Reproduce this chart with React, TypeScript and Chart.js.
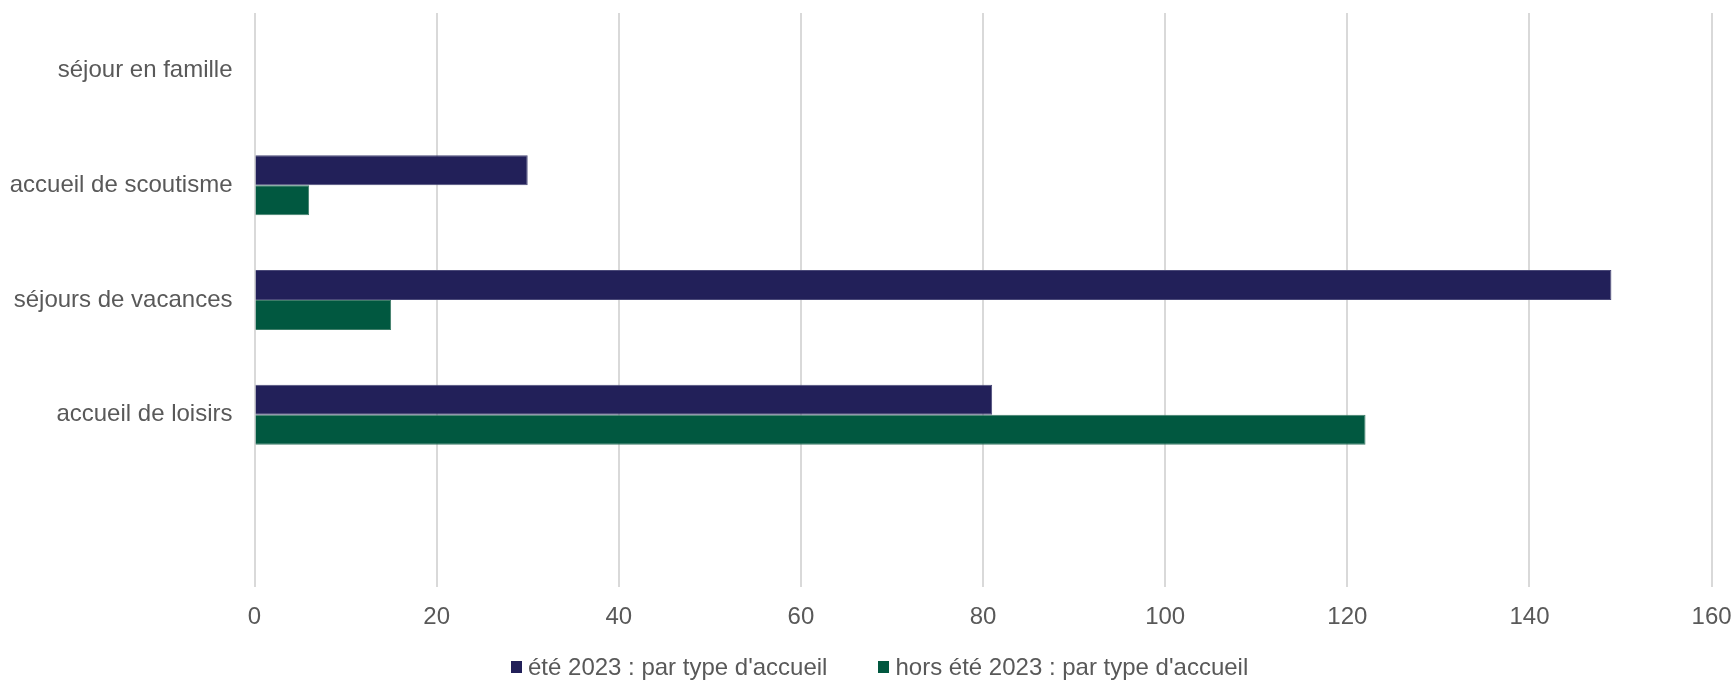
import React, { useEffect, useRef } from "react";
import { Chart, registerables } from "chart.js";

Chart.register(...registerables);

const categories = [
  "séjour en famille",
  "accueil de scoutisme",
  "séjours de vacances",
  "accueil de loisirs",
  "",
];
const ete2023 = [0, 30, 149, 81, null];
const horsEte2023 = [0, 6, 15, 122, null];
const xMin = 0;
const xMax = 160;
const xStep = 20;
const seriesNames = [
  "été 2023 : par type d'accueil",
  "hors été 2023 : par type d'accueil",
];
const seriesColors = ["#222059", "#015840"];
const seriesBorders = ["#4a4978", "#3f7d69"];

const FONT = "'Liberation Sans', Arial, Helvetica, sans-serif";
const TEXT = "#595959";

export default function App() {
  const ref = useRef<HTMLCanvasElement | null>(null);

  useEffect(() => {
    document.body.style.margin = "0";
    const canvas = ref.current;
    if (!canvas) return;
    const chart = new Chart(canvas, {
      type: "bar",
      data: {
        labels: categories,
        datasets: [
          {
            label: seriesNames[0],
            data: ete2023,
            backgroundColor: seriesColors[0],
            borderColor: seriesBorders[0],
            borderWidth: 1,
            categoryPercentage: 0.523,
            barPercentage: 1.0,
          },
          {
            label: seriesNames[1],
            data: horsEte2023,
            backgroundColor: seriesColors[1],
            borderColor: seriesBorders[1],
            borderWidth: 1,
            categoryPercentage: 0.523,
            barPercentage: 1.0,
          },
        ],
      },
      options: {
        indexAxis: "y",
        animation: false,
        responsive: false,
        maintainAspectRatio: false,
        layout: { padding: { top: 13, right: 24.4, bottom: 44, left: 0 } },
        plugins: {
          legend: { display: false },
          tooltip: { enabled: false },
        },
        scales: {
          x: {
            min: xMin,
            max: xMax,
            ticks: {
              stepSize: xStep,
              color: TEXT,
              font: { family: FONT, size: 24 },
              padding: 16,
            },
            grid: { color: "#d9d9d9", lineWidth: 2, drawTicks: false },
            border: { display: false },
            afterFit: (s: any) => {
              s.height = 50;
              s.paddingLeft = 0;
              s.paddingRight = 0;
            },
          },
          y: {
            ticks: {
              color: TEXT,
              font: { family: FONT, size: 24 },
              padding: 22,
            },
            grid: { display: false, drawTicks: false },
            border: { display: false },
            afterFit: (s: any) => {
              s.width = 254.5;
              s.paddingTop = 0;
              s.paddingBottom = 0;
            },
          },
        },
      },
    } as any);
    return () => chart.destroy();
  }, []);

  const legendText: React.CSSProperties = {
    fontFamily: FONT,
    fontSize: 24,
    color: TEXT,
    lineHeight: "28px",
    whiteSpace: "nowrap",
  };
  const box = (c: string): React.CSSProperties => ({
    display: "inline-block",
    width: 11,
    height: 12,
    background: c,
    marginRight: 6,
  });

  return (
    <div style={{ position: "relative", width: 1736, height: 681, background: "#fff" }}>
      <canvas ref={ref} width={1736} height={681} style={{ width: 1736, height: 681, display: "block" }} />
      <div
        style={{
          position: "absolute",
          left: 511,
          top: 653,
          display: "flex",
          alignItems: "center",
        }}
      >
        <div style={{ display: "flex", alignItems: "center", marginRight: 51 }}>
          <span style={box(seriesColors[0])} />
          <span style={legendText}>{seriesNames[0]}</span>
        </div>
        <div style={{ display: "flex", alignItems: "center" }}>
          <span style={box(seriesColors[1])} />
          <span style={legendText}>{seriesNames[1]}</span>
        </div>
      </div>
    </div>
  );
}
